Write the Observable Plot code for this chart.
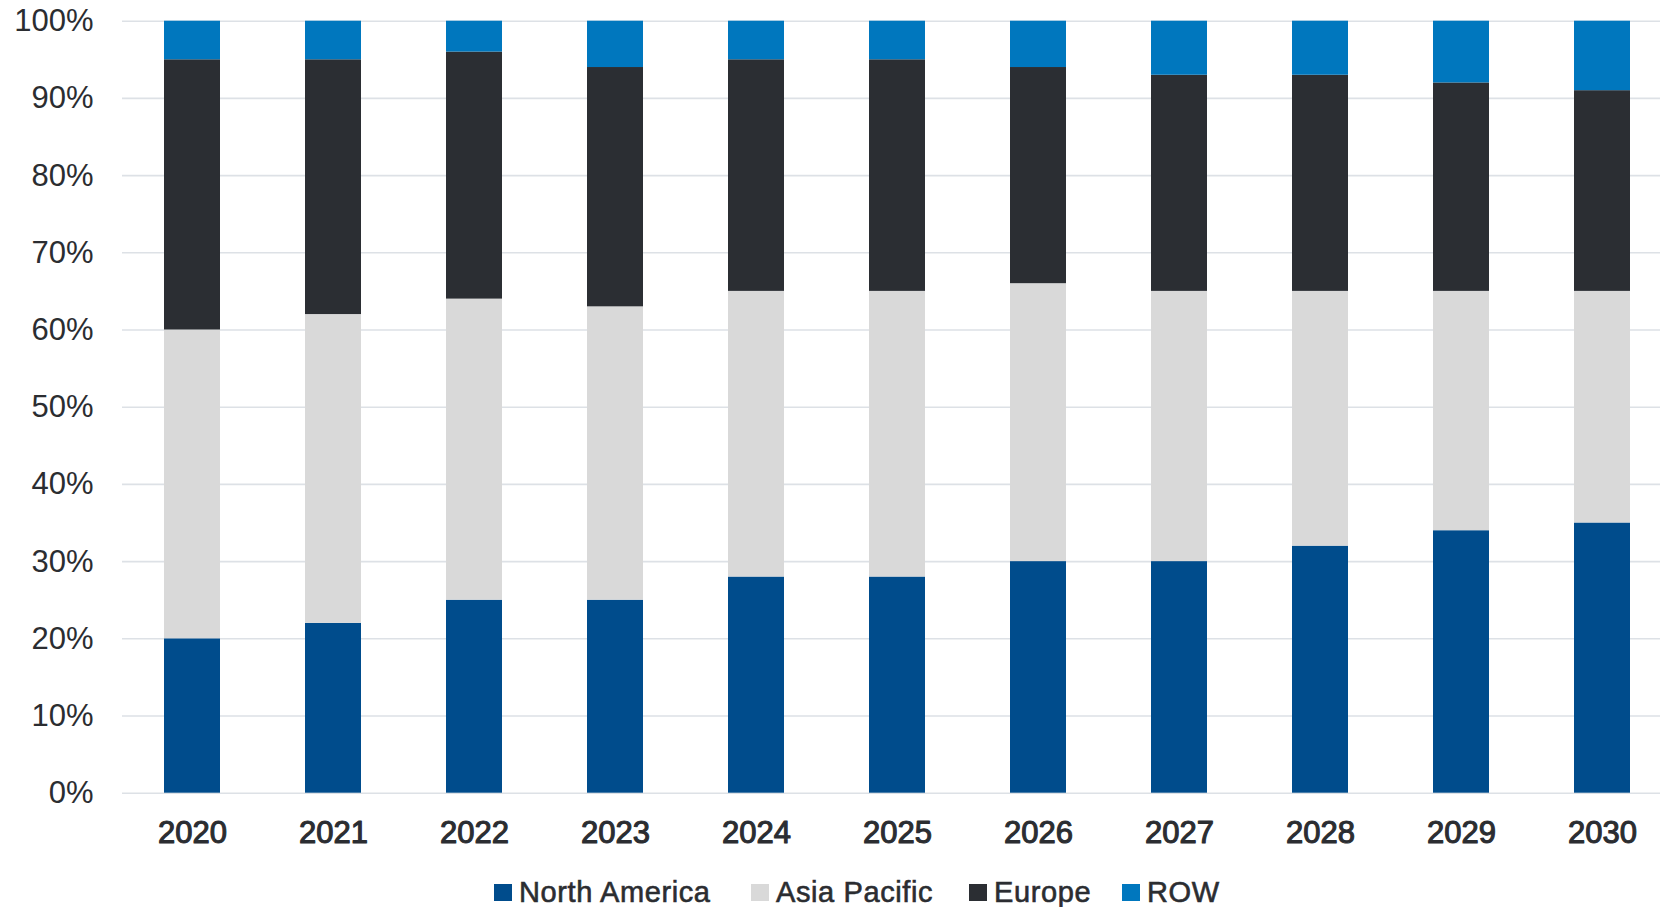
<!DOCTYPE html>
<html>
<head>
<meta charset="utf-8">
<script src="https://cdn.jsdelivr.net/npm/d3@7"></script>
<script src="https://cdn.jsdelivr.net/npm/@observablehq/plot@0.6"></script>
<style>
  body { margin: 0; background: #fff; font-family: "Liberation Sans", Arial, sans-serif; }
  #chart svg { display: block; }
  #legend { position: relative; height: 57px; }
  .item { position: absolute; top: 27px; display: flex; align-items: center; font-size: 29px; color: #2b2d31; line-height: 30px; letter-spacing: 0.6px; -webkit-text-stroke: 0.6px #2b2d31; white-space: nowrap; }
  .sw { width: 18px; height: 17px; margin-right: 7px; }
</style>
</head>
<body>
<div id="chart"></div>
<div id="legend"></div>
<script>
const years = ["2020","2021","2022","2023","2024","2025","2026","2027","2028","2029","2030"];
const regions = ["North America", "Asia Pacific", "Europe", "ROW"];
const colors = ["#004c8c", "#d9d9d9", "#2b2e33", "#0077be"];
const northAmerica = [0.20, 0.22, 0.25, 0.25, 0.28, 0.28, 0.30, 0.30, 0.32, 0.34, 0.35];
const asiaPacific  = [0.40, 0.40, 0.39, 0.38, 0.37, 0.37, 0.36, 0.35, 0.33, 0.31, 0.30];
const europe       = [0.35, 0.33, 0.32, 0.31, 0.30, 0.30, 0.28, 0.28, 0.28, 0.27, 0.26];
const row          = [0.05, 0.05, 0.04, 0.06, 0.05, 0.05, 0.06, 0.07, 0.07, 0.08, 0.09];
const yTicks = [0, 0.1, 0.2, 0.3, 0.4, 0.5, 0.6, 0.7, 0.8, 0.9, 1.0];

const series = [northAmerica, asiaPacific, europe, row];
const data = [];
regions.forEach((r, i) => years.forEach((y, j) => data.push({year: y, region: r, value: series[i][j]})));

const chart = Plot.plot({
  width: 1660,
  height: 850,
  marginLeft: 122,
  marginRight: 0,
  marginTop: 21,
  marginBottom: 57,
  style: {fontFamily: '"Liberation Sans", Arial, sans-serif', color: "#2b2d31", background: "#fff"},
  x: {domain: years, range: [122, 1673], paddingInner: 0.6, paddingOuter: 0.3, label: null},
  y: {domain: [0, 1], range: [792.7, 20.7], label: null},
  color: {domain: regions, range: colors},
  marks: [
    Plot.gridY(yTicks, {stroke: "#dde1e6", strokeOpacity: 1, strokeWidth: 1.6}),
    Plot.barY(data, {x: "year", y: "value", fill: "region", order: regions}),
    Plot.axisY(yTicks, {tickSize: 0, tickPadding: 29, tickFormat: d3.format(".0%"), fontSize: 31, fill: "#2b2d31", label: null}),
    Plot.axisX({tickSize: 0, tickPadding: 27, fontSize: 31, fontWeight: "normal", fill: "#2b2d31", textStroke: "#2b2d31", textStrokeWidth: 1.1, textStrokeOpacity: 1, label: null})
  ]
});
document.getElementById("chart").appendChild(chart);

// legend layout: left edge of each swatch
const legendLeft = [494, 751, 969, 1122];
const legend = document.getElementById("legend");
regions.forEach((r, i) => {
  const it = document.createElement("div");
  it.className = "item";
  it.style.left = legendLeft[i] + "px";
  const sw = document.createElement("div");
  sw.className = "sw";
  sw.style.background = chart.scale("color").apply(r);
  const t = document.createElement("span");
  t.textContent = r;
  it.appendChild(sw); it.appendChild(t);
  legend.appendChild(it);
});
</script>
</body>
</html>
